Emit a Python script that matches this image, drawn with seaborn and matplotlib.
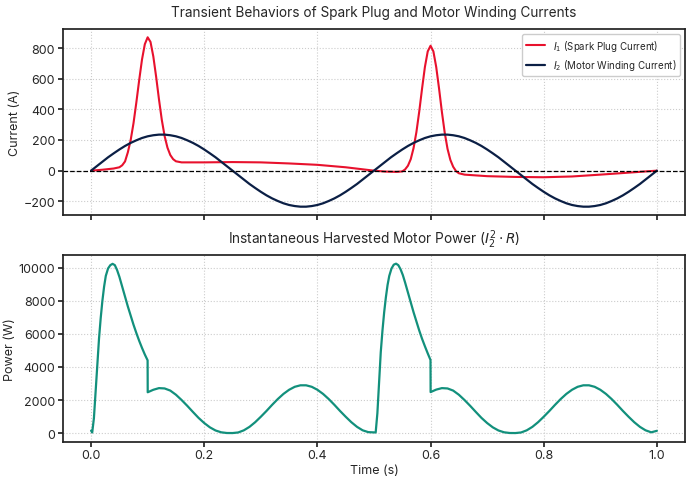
import numpy as np
import pandas as pd
import matplotlib
matplotlib.use("Agg")
import matplotlib.pyplot as plt
from matplotlib.ticker import MultipleLocator
import seaborn as sns

# --- values ---
# I1 (spark plug current), A
t_i1 = [0, 0.02, 0.04, 0.05, 0.055, 0.06, 0.065, 0.07, 0.075, 0.08, 0.085, 0.09, 0.095,
        0.1, 0.105, 0.11, 0.115, 0.12, 0.125, 0.13, 0.135, 0.14, 0.145, 0.15, 0.16,
        0.2, 0.25, 0.3, 0.35, 0.4, 0.45, 0.5, 0.52, 0.54, 0.55, 0.555, 0.56, 0.565,
        0.57, 0.575, 0.58, 0.585, 0.59, 0.595, 0.6, 0.605, 0.61, 0.615, 0.62, 0.625,
        0.63, 0.635, 0.64, 0.645, 0.65, 0.66, 0.7, 0.75, 0.8, 0.85, 0.9, 0.95, 1.0]
i1 = [0, 6, 14, 22, 35, 60, 120, 200, 310, 445, 590, 725, 825,
      870, 840, 745, 612, 465, 331, 225, 150, 102, 75, 61, 54,
      54, 56, 54, 47, 38, 22, 0, -6, -8, -5, 8, 32, 75,
      148, 252, 386, 536, 676, 778, 815, 778, 676, 536, 384, 248,
      142, 70, 25, -3, -17, -26, -36, -41, -43, -38, -26, -13, 0]

# I2 (motor winding current), A
t_i2 = [round(0.01 * k, 2) for k in range(101)]
i2 = [0, 29, 58, 87, 113, 138, 161, 181, 198, 213, 224, 231, 235, 235, 231, 224, 213,
      198, 181, 161, 138, 113, 87, 58, 29, 0, -29, -58, -87, -113, -138, -161, -181,
      -198, -213, -224, -231, -235, -235, -231, -224, -213, -198, -181, -161, -138,
      -113, -87, -58, -29, 0, 29, 58, 87, 113, 138, 161, 181, 198, 213, 224, 231, 235,
      235, 231, 224, 213, 198, 181, 161, 138, 113, 87, 58, 29, 0, -29, -58, -87, -113,
      -138, -161, -181, -198, -213, -224, -231, -235, -235, -231, -224, -213, -198,
      -181, -161, -138, -113, -87, -58, -29, 0]

# harvested power, W
t_p = [0, 0.002, 0.005, 0.008, 0.011, 0.014, 0.017, 0.02, 0.023, 0.026, 0.03, 0.034,
       0.038, 0.042, 0.046, 0.05, 0.055, 0.06, 0.065, 0.07, 0.075, 0.08, 0.085, 0.09,
       0.095, 0.0999, 0.1001, 0.11, 0.12, 0.13, 0.14, 0.15, 0.16, 0.17, 0.18, 0.19,
       0.2, 0.21, 0.22, 0.23, 0.24, 0.25, 0.26, 0.27, 0.28, 0.29, 0.3, 0.31, 0.32,
       0.33, 0.34, 0.35, 0.36, 0.37, 0.38, 0.39, 0.4, 0.41, 0.42, 0.43, 0.44, 0.45,
       0.46, 0.47, 0.48, 0.49, 0.5, 0.503, 0.506, 0.509, 0.512, 0.515, 0.518, 0.521,
       0.524, 0.527, 0.531, 0.535, 0.539, 0.543, 0.547, 0.551, 0.555, 0.56, 0.565,
       0.57, 0.575, 0.58, 0.585, 0.59, 0.595, 0.5999, 0.6001, 0.61, 0.62, 0.63, 0.64,
       0.65, 0.66, 0.67, 0.68, 0.69, 0.7, 0.71, 0.72, 0.73, 0.74, 0.75, 0.76, 0.77,
       0.78, 0.79, 0.8, 0.81, 0.82, 0.83, 0.84, 0.85, 0.86, 0.87, 0.88, 0.89, 0.9,
       0.91, 0.92, 0.93, 0.94, 0.95, 0.96, 0.97, 0.98, 0.99, 1.0]
power = [150, 40, 900, 2500, 4100, 5700, 6950, 8000, 8850, 9500, 9950, 10150,
         10230, 10150, 9850, 9450, 8850, 8250, 7650, 7100, 6550, 6050, 5580, 5150,
         4750, 4400, 2470, 2620, 2720, 2700, 2570, 2320, 2000, 1650, 1280, 920,
         610, 350, 160, 50, 8, 5, 40, 170, 380, 660, 990, 1340, 1710,
         2060, 2370, 2620, 2800, 2890, 2890, 2800, 2620, 2370, 2060, 1710, 1340, 990,
         660, 380, 170, 60, 40, 40, 1200, 3000, 4900, 6200, 7300, 8200,
         8950, 9500, 9950, 10180, 10240, 10150, 9900, 9550, 9100, 8500, 7900,
         7300, 6750, 6200, 5700, 5250, 4820, 4420, 2480, 2630, 2720, 2700, 2570,
         2320, 2000, 1650, 1280, 920, 610, 350, 160, 50, 8, 5, 40, 170,
         380, 660, 990, 1340, 1710, 2060, 2370, 2620, 2800, 2890, 2890, 2800, 2620,
         2370, 2060, 1710, 1340, 990, 660, 380, 170, 50, 140]

RED = "#e8112d"
NAVY = "#0b1f45"
TEAL = "#12907c"

sns.set_theme(style="ticks")
plt.rcParams["font.family"] = ["Inter", "DejaVu Sans"]
plt.rcParams["mathtext.fontset"] = "dejavusans"

df1 = pd.DataFrame({"t": t_i1, "I1": i1})
df2 = pd.DataFrame({"t": t_i2, "I2": i2})
dfp = pd.DataFrame({"t": t_p, "P": power})

fig, (ax1, ax2) = plt.subplots(2, 1, figsize=(6.9, 4.81), dpi=100, sharex=True)

sns.lineplot(data=df1, x="t", y="I1", ax=ax1, color=RED, lw=1.5,
             label=r"$I_1$ (Spark Plug Current)", estimator=None, sort=False)
sns.lineplot(data=df2, x="t", y="I2", ax=ax1, color=NAVY, lw=1.6,
             label=r"$I_2$ (Motor Winding Current)", estimator=None, sort=False)
ax1.axhline(0, color="black", ls="--", lw=0.9)
ax1.set_title("Transient Behaviors of Spark Plug and Motor Winding Currents", fontsize=9.8, pad=9)
ax1.set_ylabel("Current (A)", fontsize=9, labelpad=2)
ax1.set_xlabel("")
ax1.yaxis.set_major_locator(MultipleLocator(200))
ax1.legend(loc="upper right", fontsize=7, frameon=True, framealpha=1, edgecolor="#cccccc")

sns.lineplot(data=dfp, x="t", y="P", ax=ax2, color=TEAL, lw=1.6, estimator=None, sort=False)
ax2.set_title(r"Instantaneous Harvested Motor Power ($I_2^2 \cdot R$)", fontsize=9.8, pad=9)
ax2.set_ylabel("Power (W)", fontsize=9, labelpad=2)
ax2.set_xlabel("Time (s)", fontsize=9, labelpad=2)

for ax in (ax1, ax2):
    ax.grid(True, ls=":", color="#cccccc", lw=0.8)
    ax.tick_params(labelsize=9, pad=2, length=3.5)
    for s in ax.spines.values():
        s.set_visible(True)
        s.set_color("#222222")
ax2.set_xticks([0.0, 0.2, 0.4, 0.6, 0.8, 1.0])

fig.subplots_adjust(left=0.091, right=0.993, top=0.938, bottom=0.08, hspace=0.215)
fig.savefig("out.png", dpi=100)
